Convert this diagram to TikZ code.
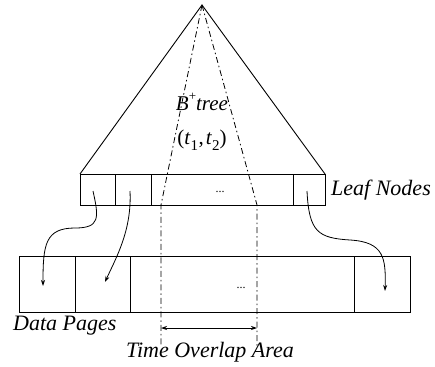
\documentclass[tikz,border=0pt]{standalone}
\usepackage{fontspec}
\setmainfont{Liberation Serif}
\usetikzlibrary{arrows.meta}
\newcommand{\mysub}[1]{\raisebox{-0.28em}{\fontsize{15}{15}\selectfont #1}}
\begin{document}
\begin{tikzpicture}[x=1pt,y=-1pt,
  cell/.style={draw,line width=0.9pt,rectangle,inner sep=0pt,outer sep=0pt,anchor=north west},
  lbl/.style={font=\fontsize{22}{25}\selectfont\itshape,inner sep=0pt},
  dd/.style={line width=0.8pt,dash pattern=on 6pt off 3pt on 1.5pt off 3pt},
  ptr/.style={line width=0.8pt,-{Stealth[length=6pt,width=4pt]}},
  dots/.style={font=\fontsize{12}{12}\selectfont,inner sep=0pt}]
\useasboundingbox (0,0) rectangle (435,366);
% tree triangle
\coordinate (apex) at (202,5);
\coordinate (tl) at (80,174);
\coordinate (tr) at (325,174);
\draw[line width=0.9pt] (tl) -- (apex) -- (tr);
% leaf cells
\node[cell,minimum width=35.7pt,minimum height=31pt] (l1) at (80,174) {};
\node[cell,minimum width=35.3pt,minimum height=31pt] (l2) at (115.7,174) {};
\node[cell,minimum width=142.3pt,minimum height=31pt] (l3) at (151,174) {};
\node[cell,minimum width=31.7pt,minimum height=31pt] (l4) at (293.3,174) {};
\node[dots] (ldots) at (220,192) {...};
% data pages
\node[cell,minimum width=56pt,minimum height=56pt] (d1) at (19,256.7) {};
\node[cell,minimum width=55.7pt,minimum height=56pt] (d2) at (75,256.7) {};
\node[cell,minimum width=223.3pt,minimum height=56pt] (d3) at (130.7,256.7) {};
\node[cell,minimum width=56pt,minimum height=56pt] (d4) at (354,256.7) {};
\node[dots] (ddots) at (241,288) {...};
% labels
\node[lbl,anchor=west] (leaflbl) at (331,190) {Leaf Nodes};
\node[lbl,anchor=west] (datalbl) at (13,326) {Data Pages};
\node[lbl] (tlbl) at (210,352) {Time Overlap Area};
\node[font=\fontsize{21}{22}\selectfont,inner sep=0pt] (btree) at (202,102) {\textit{B}\raisebox{0.45em}{\fontsize{13}{13}\selectfont +}\textit{tree}};
\node[font=\fontsize{21}{22}\selectfont,inner sep=0pt] (tt) at (202,140) {(\textit{t}\mysub{1}\hspace{0.5pt},\hspace{2pt}\textit{t}\mysub{2})};
% dash-dot lines
\coordinate (ll) at (161,205);
\coordinate (lb) at (161,346);
\coordinate (rl) at (257,205);
\coordinate (rb) at (257,346);
\draw[dd] (apex) -- (ll) -- (lb);
\draw[dd] (apex) -- (rl) -- (rb);
% overlap arrow
\coordinate (oa) at (161,328);
\coordinate (ob) at (257,328);
\draw[line width=0.8pt,{Stealth[length=6pt,width=4pt]}-{Stealth[length=6pt,width=4pt]}] (oa) -- (ob);
% pointers
\coordinate (p1s) at (93,191);
\coordinate (p1e) at (43,286);
\coordinate (p2s) at (130,191);
\coordinate (p2e) at (105,282);
\coordinate (p3s) at (307,191);
\coordinate (p3e) at (385,291);
\draw[ptr] (p1s) .. controls (99,218) and (100,228) .. (75,228) .. controls (45,228) and (43,245) .. (p1e);
\draw[ptr] (p2s) .. controls (132,230) and (116,258) .. (p2e);
\draw[ptr] (p3s) .. controls (309,232) and (318,238) .. (350,240) .. controls (384,242) and (386,258) .. (p3e);
\end{tikzpicture}
\end{document}
